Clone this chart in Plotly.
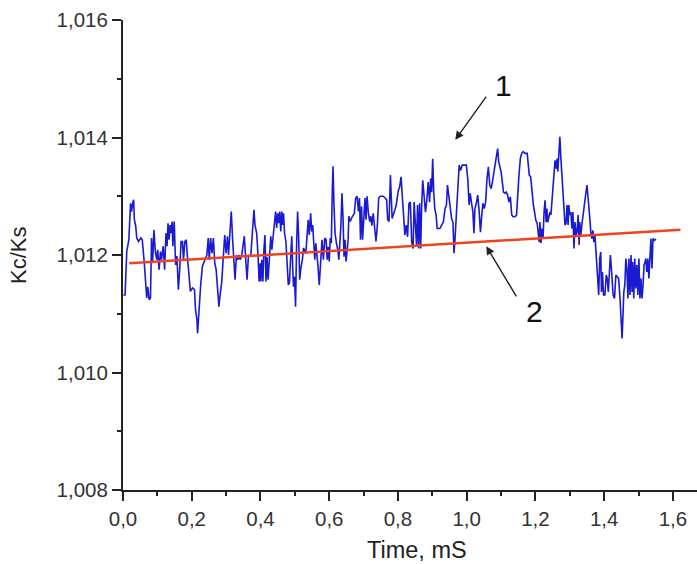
import plotly.graph_objects as go

# Measured signal (curve 1)
time_ms = [
    0.001, 0.006, 0.011, 0.017, 0.022, 0.025, 0.028, 0.031, 0.033, 0.037, 0.040, 0.045, 0.052, 0.056,
    0.062, 0.066, 0.069, 0.072, 0.076, 0.080, 0.083, 0.086, 0.090, 0.094, 0.098, 0.101, 0.105, 0.109,
    0.112, 0.117, 0.121, 0.125, 0.128, 0.131, 0.134, 0.137, 0.140, 0.143, 0.145, 0.149, 0.153, 0.157,
    0.161, 0.165, 0.169, 0.173, 0.176, 0.180, 0.184, 0.188, 0.192, 0.196, 0.202, 0.208, 0.211, 0.215,
    0.217, 0.221, 0.226, 0.231, 0.237, 0.240, 0.244, 0.248, 0.251, 0.255, 0.259, 0.263, 0.267, 0.271,
    0.274, 0.279, 0.283, 0.287, 0.292, 0.296, 0.300, 0.304, 0.307, 0.311, 0.315, 0.319, 0.322, 0.326,
    0.330, 0.334, 0.338, 0.341, 0.345, 0.349, 0.353, 0.357, 0.361, 0.365, 0.369, 0.372, 0.377, 0.381,
    0.384, 0.389, 0.393, 0.396, 0.399, 0.401, 0.404, 0.407, 0.410, 0.413, 0.416, 0.419, 0.422, 0.426,
    0.430, 0.433, 0.437, 0.441, 0.444, 0.447, 0.450, 0.453, 0.456, 0.459, 0.462, 0.464, 0.467, 0.470,
    0.474, 0.478, 0.481, 0.484, 0.488, 0.491, 0.494, 0.496, 0.499, 0.502, 0.505, 0.508, 0.511, 0.514,
    0.518, 0.522, 0.525, 0.528, 0.532, 0.536, 0.539, 0.542, 0.546, 0.549, 0.552, 0.555, 0.558, 0.561,
    0.564, 0.567, 0.571, 0.575, 0.579, 0.583, 0.587, 0.591, 0.594, 0.597, 0.600, 0.603, 0.606, 0.609,
    0.611, 0.614, 0.617, 0.621, 0.625, 0.628, 0.631, 0.634, 0.637, 0.640, 0.643, 0.646, 0.649, 0.652,
    0.655, 0.657, 0.661, 0.665, 0.669, 0.673, 0.677, 0.681, 0.685, 0.688, 0.691, 0.694, 0.697, 0.701,
    0.704, 0.707, 0.710, 0.714, 0.718, 0.721, 0.724, 0.728, 0.732, 0.736, 0.740, 0.744, 0.749, 0.757,
    0.763, 0.767, 0.770, 0.774, 0.778, 0.783, 0.789, 0.795, 0.801, 0.805, 0.809, 0.813, 0.816, 0.820,
    0.824, 0.828, 0.832, 0.836, 0.840, 0.844, 0.847, 0.851, 0.854, 0.857, 0.860, 0.863, 0.866, 0.869,
    0.872, 0.875, 0.878, 0.880, 0.884, 0.888, 0.892, 0.895, 0.898, 0.901, 0.904, 0.907, 0.911, 0.914,
    0.918, 0.922, 0.927, 0.932, 0.937, 0.941, 0.944, 0.948, 0.952, 0.956, 0.960, 0.963, 0.966, 0.969,
    0.972, 0.975, 0.978, 0.982, 0.987, 0.993, 0.999, 1.003, 1.007, 1.010, 1.014, 1.018, 1.021, 1.024,
    1.028, 1.032, 1.036, 1.040, 1.043, 1.047, 1.051, 1.055, 1.059, 1.063, 1.067, 1.071, 1.074, 1.078,
    1.082, 1.086, 1.090, 1.093, 1.096, 1.100, 1.104, 1.107, 1.111, 1.115, 1.119, 1.123, 1.127, 1.131,
    1.135, 1.140, 1.145, 1.148, 1.152, 1.156, 1.160, 1.164, 1.170, 1.176, 1.182, 1.186, 1.190, 1.194,
    1.198, 1.201, 1.205, 1.208, 1.211, 1.213, 1.216, 1.219, 1.222, 1.225, 1.228, 1.231, 1.233, 1.236,
    1.239, 1.242, 1.245, 1.248, 1.251, 1.254, 1.257, 1.260, 1.263, 1.265, 1.268, 1.271, 1.274, 1.277,
    1.280, 1.283, 1.286, 1.289, 1.292, 1.295, 1.297, 1.300, 1.303, 1.306, 1.309, 1.312, 1.315, 1.318,
    1.321, 1.324, 1.327, 1.329, 1.332, 1.335, 1.339, 1.343, 1.347, 1.350, 1.353, 1.356, 1.359, 1.361,
    1.364, 1.367, 1.370, 1.373, 1.376, 1.379, 1.381, 1.384, 1.387, 1.390, 1.392, 1.395, 1.398, 1.402,
    1.406, 1.409, 1.412, 1.415, 1.418, 1.421, 1.424, 1.426, 1.430, 1.434, 1.438, 1.442, 1.446, 1.449,
    1.452, 1.455, 1.457, 1.460, 1.463, 1.466, 1.469, 1.472, 1.475, 1.478, 1.481, 1.483, 1.486, 1.489,
    1.492, 1.495, 1.498, 1.501, 1.504, 1.507, 1.510, 1.513, 1.516, 1.519, 1.521, 1.524, 1.527, 1.530,
    1.533, 1.536, 1.539, 1.542, 1.546, 1.551,
]
kc_ks = [
    1.01132, 1.01132, 1.01206, 1.01226, 1.01288, 1.01274, 1.01288, 1.01294, 1.01260, 1.01249, 1.01229, 1.01223, 1.01229, 1.01226,
    1.01186, 1.01158, 1.01127, 1.01146, 1.01124, 1.01127, 1.01229, 1.01186, 1.01243, 1.01206, 1.01192, 1.01209, 1.01175, 1.01206,
    1.01192, 1.01215, 1.01175, 1.01237, 1.01215, 1.01254, 1.01226, 1.01251, 1.01237, 1.01257, 1.01215, 1.01257, 1.01183, 1.01198,
    1.01141, 1.01175, 1.01223, 1.01223, 1.01192, 1.01223, 1.01226, 1.01192, 1.01169, 1.01138, 1.01144, 1.01141, 1.01107, 1.01090,
    1.01067, 1.01112, 1.01149, 1.01181, 1.01189, 1.01192, 1.01200, 1.01229, 1.01192, 1.01229, 1.01203, 1.01229, 1.01186, 1.01175,
    1.01146, 1.01112, 1.01135, 1.01152, 1.01198, 1.01234, 1.01203, 1.01232, 1.01200, 1.01234, 1.01274, 1.01226, 1.01198, 1.01158,
    1.01200, 1.01192, 1.01200, 1.01192, 1.01198, 1.01217, 1.01232, 1.01192, 1.01158, 1.01200, 1.01198, 1.01200, 1.01249, 1.01277,
    1.01251, 1.01237, 1.01197, 1.01155, 1.01186, 1.01155, 1.01192, 1.01155, 1.01209, 1.01234, 1.01155, 1.01197, 1.01158, 1.01189,
    1.01232, 1.01209, 1.01237, 1.01251, 1.01274, 1.01246, 1.01271, 1.01254, 1.01274, 1.01240, 1.01274, 1.01251, 1.01271, 1.01237,
    1.01223, 1.01180, 1.01149, 1.01152, 1.01192, 1.01232, 1.01175, 1.01146, 1.01163, 1.01112, 1.01214, 1.01274, 1.01232, 1.01158,
    1.01180, 1.01192, 1.01212, 1.01209, 1.01203, 1.01237, 1.01260, 1.01234, 1.01271, 1.01240, 1.01251, 1.01220, 1.01192, 1.01220,
    1.01192, 1.01183, 1.01149, 1.01186, 1.01226, 1.01192, 1.01229, 1.01226, 1.01192, 1.01214, 1.01189, 1.01229, 1.01220, 1.01311,
    1.01351, 1.01283, 1.01237, 1.01220, 1.01209, 1.01192, 1.01223, 1.01250, 1.01305, 1.01266, 1.01197, 1.01226, 1.01189, 1.01209,
    1.01226, 1.01266, 1.01257, 1.01263, 1.01266, 1.01271, 1.01297, 1.01300, 1.01274, 1.01297, 1.01226, 1.01283, 1.01226, 1.01266,
    1.01297, 1.01260, 1.01300, 1.01271, 1.01257, 1.01266, 1.01250, 1.01271, 1.01243, 1.01223, 1.01250, 1.01297, 1.01300, 1.01300,
    1.01297, 1.01294, 1.01260, 1.01257, 1.01336, 1.01262, 1.01273, 1.01285, 1.01310, 1.01316, 1.01333, 1.01290, 1.01256, 1.01234,
    1.01251, 1.01231, 1.01288, 1.01290, 1.01222, 1.01211, 1.01290, 1.01251, 1.01217, 1.01285, 1.01211, 1.01288, 1.01211, 1.01285,
    1.01327, 1.01307, 1.01290, 1.01273, 1.01293, 1.01324, 1.01290, 1.01330, 1.01307, 1.01364, 1.01307, 1.01279, 1.01268, 1.01245,
    1.01245, 1.01245, 1.01251, 1.01256, 1.01279, 1.01285, 1.01319, 1.01302, 1.01285, 1.01262, 1.01256, 1.01203, 1.01228, 1.01256,
    1.01279, 1.01324, 1.01353, 1.01344, 1.01353, 1.01353, 1.01353, 1.01330, 1.01285, 1.01305, 1.01290, 1.01273, 1.01237, 1.01279,
    1.01288, 1.01302, 1.01276, 1.01239, 1.01262, 1.01288, 1.01279, 1.01290, 1.01330, 1.01350, 1.01319, 1.01313, 1.01322, 1.01339,
    1.01347, 1.01367, 1.01381, 1.01359, 1.01350, 1.01342, 1.01322, 1.01307, 1.01305, 1.01307, 1.01302, 1.01290, 1.01299, 1.01268,
    1.01265, 1.01265, 1.01268, 1.01307, 1.01336, 1.01364, 1.01373, 1.01376, 1.01373, 1.01373, 1.01336, 1.01333, 1.01307, 1.01285,
    1.01271, 1.01259, 1.01254, 1.01239, 1.01222, 1.01256, 1.01220, 1.01245, 1.01228, 1.01273, 1.01293, 1.01256, 1.01279, 1.01256,
    1.01265, 1.01273, 1.01268, 1.01293, 1.01313, 1.01336, 1.01361, 1.01347, 1.01364, 1.01342, 1.01376, 1.01401, 1.01364, 1.01336,
    1.01307, 1.01273, 1.01251, 1.01254, 1.01285, 1.01251, 1.01285, 1.01268, 1.01273, 1.01245, 1.01273, 1.01211, 1.01256, 1.01234,
    1.01239, 1.01268, 1.01217, 1.01256, 1.01234, 1.01251, 1.01273, 1.01296, 1.01307, 1.01319, 1.01302, 1.01285, 1.01256, 1.01239,
    1.01228, 1.01242, 1.01222, 1.01234, 1.01205, 1.01194, 1.01171, 1.01132, 1.01194, 1.01205, 1.01137, 1.01171, 1.01132, 1.01132,
    1.01166, 1.01160, 1.01137, 1.01183, 1.01200, 1.01177, 1.01149, 1.01132, 1.01126, 1.01166, 1.01163, 1.01160, 1.01126, 1.01086,
    1.01058, 1.01103, 1.01137, 1.01149, 1.01194, 1.01177, 1.01126, 1.01194, 1.01132, 1.01200, 1.01137, 1.01188, 1.01126, 1.01194,
    1.01143, 1.01183, 1.01132, 1.01194, 1.01126, 1.01160, 1.01126, 1.01149, 1.01183, 1.01188, 1.01194, 1.01171, 1.01194, 1.01160,
    1.01200, 1.01228, 1.01177, 1.01228, 1.01225, 1.01227,
]

# Linear trend (curve 2)
fit_time = [0.018, 1.622]
fit_kc_ks = [1.01186, 1.01243]

x_ticks = [0.0, 0.2, 0.4, 0.6, 0.8, 1.0, 1.2, 1.4, 1.6]
y_ticks = [1.008, 1.010, 1.012, 1.014, 1.016]

FONT = "Liberation Sans, Arial, sans-serif"
INK = "#222222"

fig = go.Figure()
fig.add_trace(go.Scatter(x=time_ms, y=kc_ks, mode="lines",
                         line=dict(color="#1a1ad2", width=1.6), showlegend=False))
fig.add_trace(go.Scatter(x=fit_time, y=fit_kc_ks, mode="lines",
                         line=dict(color="#f0421c", width=2.5), showlegend=False))

axis_common = dict(
    showgrid=False, zeroline=False, showline=True, linecolor=INK, linewidth=2,
    ticks="outside", ticklen=9, tickwidth=2, tickcolor=INK,
    tickfont=dict(family=FONT, size=20.5, color="#333333"),
)
fig.update_xaxes(range=[0, 1.67], tickvals=x_ticks, tickformat=".1f",
                 minor=dict(dtick=0.1, ticks="outside", ticklen=4, tickwidth=2, tickcolor=INK),
                 **axis_common)
fig.update_yaxes(range=[1.008, 1.016], tickvals=y_ticks, tickformat=".3f",
                 minor=dict(dtick=0.001, ticks="outside", ticklen=4, tickwidth=2, tickcolor=INK),
                 **axis_common)

annotations = [
    dict(text="Time, mS", xref="paper", yref="paper", x=0.512, y=-0.128,
         xanchor="center", yanchor="middle", showarrow=False,
         font=dict(family=FONT, size=23.5, color="#222222")),
    dict(text="Kc/Ks", xref="paper", yref="paper", x=-0.183, y=0.5, textangle=-90,
         xanchor="center", yanchor="middle", showarrow=False,
         font=dict(family=FONT, size=22, color="#222222")),
    dict(text="1", x=1.106, y=1.01489, xref="x", yref="y", showarrow=False,
         font=dict(family=FONT, size=30, color="#111111")),
    dict(text="2", x=1.1965, y=1.01103, xref="x", yref="y", showarrow=False,
         font=dict(family=FONT, size=30, color="#111111")),
    dict(text="", x=0.9667, y=1.01396, ax=1.0598, ay=1.01472, xref="x", yref="y",
         axref="x", ayref="y", showarrow=True, arrowhead=2, arrowsize=1.2,
         arrowwidth=1.4, arrowcolor="#222222"),
    dict(text="", x=1.0569, y=1.01215, ax=1.147, ay=1.01127, xref="x", yref="y",
         axref="x", ayref="y", showarrow=True, arrowhead=2, arrowsize=1.2,
         arrowwidth=1.4, arrowcolor="#222222"),
]

fig.update_layout(
    width=697, height=564,
    margin=dict(l=123, r=0, t=20, b=74),
    paper_bgcolor="white", plot_bgcolor="white",
    separators=", ",
    annotations=annotations,
)

fig.write_html("out.html")
